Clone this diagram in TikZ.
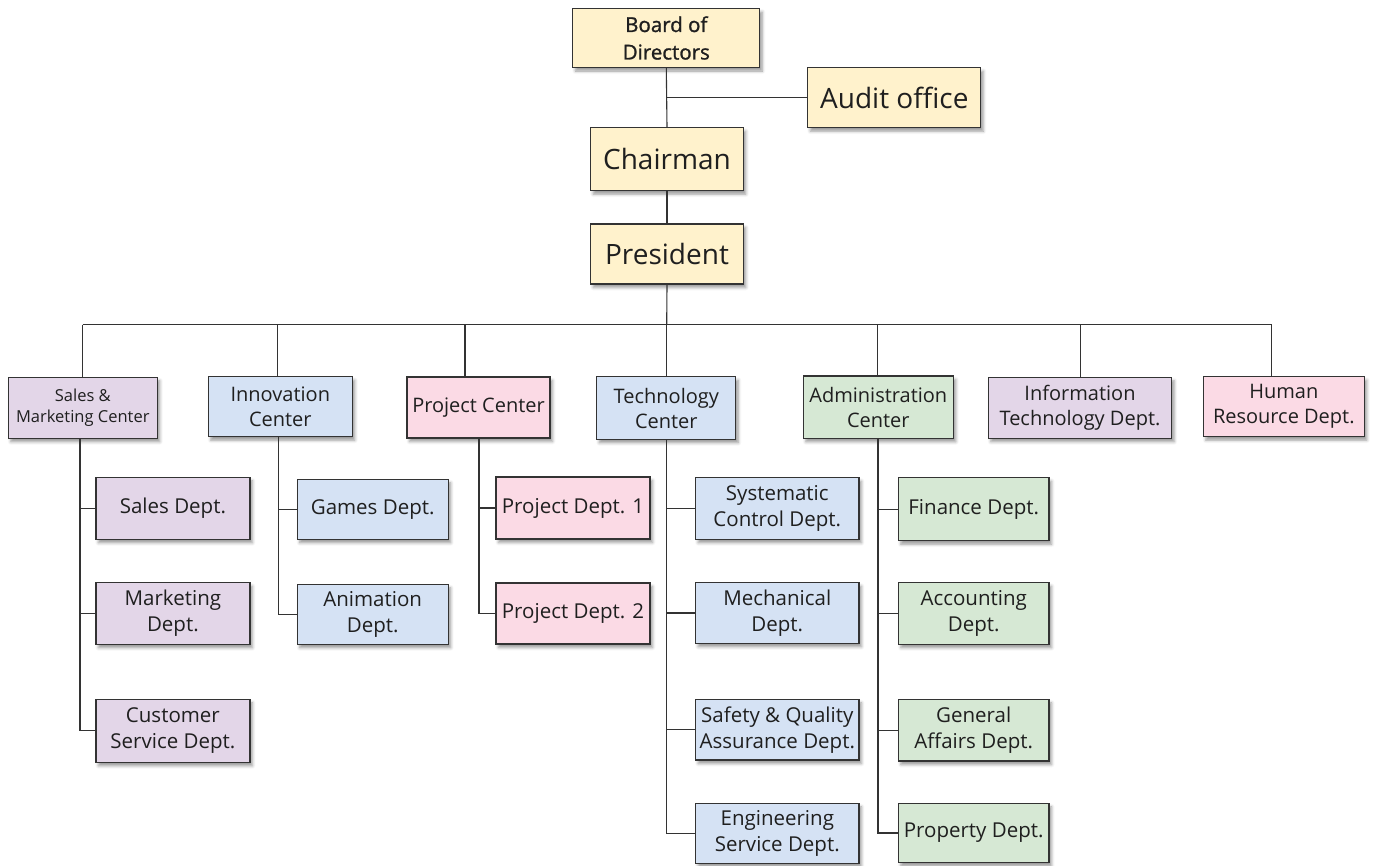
\documentclass[tikz,border=0pt]{standalone}
\usepackage{fontspec}
\setmainfont{Open Sans}
\newfontface\semib{Open Sans}[FakeBold=1.2]
\usetikzlibrary{shadows.blur}
\definecolor{cyel}{HTML}{FFF2CC}
\definecolor{cpur}{HTML}{E3D6E8}
\definecolor{cblu}{HTML}{D5E2F4}
\definecolor{cpnk}{HTML}{FBDAE5}
\definecolor{cgrn}{HTML}{D6E8D4}
\definecolor{cline}{HTML}{333333}
\begin{document}
\begin{tikzpicture}[x=1pt,y=-1pt,
  box/.style={draw=cline, line width=1.3pt, inner sep=0pt, align=center, text=black!88,
    blur shadow={shadow xshift=2.5pt, shadow yshift=-3.5pt, shadow blur radius=3pt, shadow opacity=40}},
  big/.style={box, fill=cyel, font=\fontsize{28}{33}\selectfont},
  lev/.style={box, font=\fontsize{20}{25}\selectfont},
  small/.style={box, font=\fontsize{16.5}{21}\selectfont},
  kid/.style={box, font=\fontsize{20.5}{26}\selectfont},
  conn/.style={draw=cline, line width=1.1pt}]
\useasboundingbox (0,0) rectangle (1373,865);
% top
\node[box, fill=cyel, minimum width=187pt, minimum height=59pt, font=\semib\fontsize{20.5}{27.5}\selectfont] (board) at (666.3,38) {Board of\\Directors};
\node[big, minimum width=173pt, minimum height=60pt] (audit) at (894.3,97.7) {Audit office};
\node[big, minimum width=152.6pt, minimum height=63pt] (chair) at (667,159.2) {Chairman};
\node[big, minimum width=152.6pt, minimum height=60pt] (pres) at (667,254) {President};
% level 2
\node[small, fill=cpur, minimum width=149pt, minimum height=61pt] (sm) at (82.8,407.8) {Sales \&\\Marketing Center};
\node[lev, fill=cblu, minimum width=144pt, minimum height=60pt] (inn) at (280.3,406.8) {Innovation\\Center};
\node[lev, fill=cpnk, minimum width=143pt, minimum height=61pt] (proj) at (478.5,407.5) {Project Center};
\node[lev, fill=cblu, minimum width=139pt, minimum height=62.6pt] (tech) at (666.3,408) {Technology\\Center};
\node[lev, fill=cgrn, minimum width=150pt, minimum height=62.3pt] (adm) at (878.3,407.2) {Administration\\Center};
\node[lev, fill=cpur, minimum width=183.4pt, minimum height=61pt] (it) at (1080,407.8) {Information\\Technology Dept.};
\node[lev, fill=cpnk, minimum width=161pt, minimum height=60pt] (hr) at (1283.8,406.7) {Human\\Resource Dept.};
% children: sales
\node[kid, fill=cpur, minimum width=154pt, minimum height=62pt] (sd) at (172.9,508.3) {Sales Dept.};
\node[kid, fill=cpur, minimum width=154pt, minimum height=61.6pt] (md) at (172.9,613.5) {Marketing\\Dept.};
\node[kid, fill=cpur, minimum width=154pt, minimum height=63pt] (cs) at (172.9,730.8) {Customer\\Service Dept.};
% innovation
\node[kid, fill=cblu, minimum width=151pt, minimum height=60pt] (gd) at (372.7,509.3) {Games Dept.};
\node[kid, fill=cblu, minimum width=151pt, minimum height=60pt] (ad) at (372.7,614.3) {Animation\\Dept.};
% project
\node[kid, fill=cpnk, minimum width=154pt, minimum height=62pt] (p1) at (573,508) {Project Dept. 1};
\node[kid, fill=cpnk, minimum width=154pt, minimum height=61pt] (p2) at (573,613.5) {Project Dept. 2};
% technology
\node[kid, fill=cblu, minimum width=163.3pt, minimum height=61.6pt] (scd) at (777.3,508.5) {Systematic\\Control Dept.};
\node[kid, fill=cblu, minimum width=163.3pt, minimum height=60.6pt] (mec) at (777.3,613) {Mechanical\\Dept.};
\node[kid, fill=cblu, minimum width=163.3pt, minimum height=60.7pt] (sqa) at (777.3,729.7) {Safety \& Quality\\Assurance Dept.};
\node[kid, fill=cblu, minimum width=163.3pt, minimum height=60pt] (esd) at (777.3,833.3) {Engineering\\Service Dept.};
% administration
\node[kid, fill=cgrn, minimum width=150.7pt, minimum height=63pt] (fin) at (973.7,509.2) {Finance Dept.};
\node[kid, fill=cgrn, minimum width=150.7pt, minimum height=61.6pt] (acc) at (973.7,613.5) {Accounting\\Dept.};
\node[kid, fill=cgrn, minimum width=150.7pt, minimum height=61.7pt] (gad) at (973.7,730.2) {General\\Affairs Dept.};
\node[kid, fill=cgrn, minimum width=150.7pt, minimum height=59.4pt] (prd) at (973.7,833) {Property Dept.};
% drop coordinates on bus
\coordinate (d1) at (82.7,324.5);
\coordinate (d2) at (277.7,324.5);
\coordinate (d3) at (465,324.5);
\coordinate (d4) at (666.7,324.5);
\coordinate (d5) at (877.7,324.5);
\coordinate (d6) at (1080.7,324.5);
\coordinate (d7) at (1271.7,324.5);
% top connectors
\draw[conn] (board.south) -- (chair.north);
\draw[conn] (chair.south) -- (pres.north);
\draw[conn] (board.south |- audit.west) -- (audit.west);
\draw[conn] (pres.south) -- (d4);
\draw[conn] (d1) -- (d7);
\draw[conn] (d1) -- (d1 |- sm.north);
\draw[conn] (d2) -- (d2 |- inn.north);
\draw[conn] (d3) -- (d3 |- proj.north);
\draw[conn] (d4) -- (d4 |- tech.north);
\draw[conn] (d5) -- (d5 |- adm.north);
\draw[conn] (d6) -- (d6 |- it.north);
\draw[conn] (d7) -- (d7 |- hr.north);
% spines
\coordinate (s1) at (80,438.3);
\draw[conn] (s1) |- (cs.west);
\draw[conn] (s1 |- sd.west) -- (sd.west);
\draw[conn] (s1 |- md.west) -- (md.west);
\coordinate (s2) at (278.2,436.8);
\draw[conn] (s2) |- (ad.west);
\draw[conn] (s2 |- gd.west) -- (gd.west);
\coordinate (s3) at (479,438);
\draw[conn] (s3) |- (p2.west);
\draw[conn] (s3 |- p1.west) -- (p1.west);
\coordinate (s4) at (666.7,439.3);
\draw[conn] (s4) |- (esd.west);
\draw[conn] (s4 |- scd.west) -- (scd.west);
\draw[conn] (s4 |- mec.west) -- (mec.west);
\draw[conn] (s4 |- sqa.west) -- (sqa.west);
\coordinate (s5) at (878,438.3);
\draw[conn] (s5) |- (prd.west);
\draw[conn] (s5 |- fin.west) -- (fin.west);
\draw[conn] (s5 |- acc.west) -- (acc.west);
\draw[conn] (s5 |- gad.west) -- (gad.west);
\end{tikzpicture}
\end{document}
